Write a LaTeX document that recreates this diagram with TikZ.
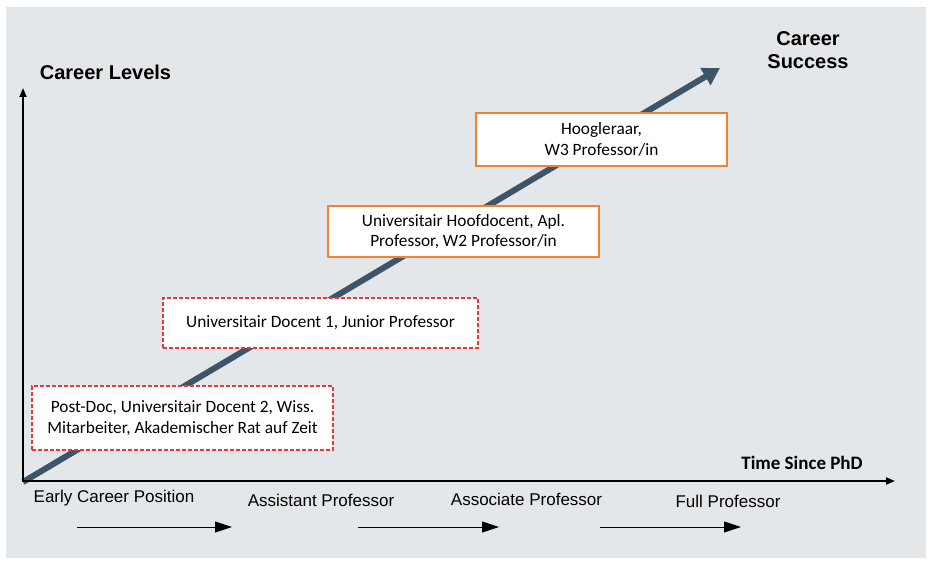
\documentclass[tikz,border=0pt]{standalone}
\usepackage{fontspec}
\setmainfont{Carlito}
\newfontfamily\arialf{Liberation Sans}
\usetikzlibrary{arrows.meta}
\definecolor{bggray}{HTML}{E4E7E9}
\definecolor{slate}{HTML}{3E5468}
\definecolor{boxred}{HTML}{E8383D}
\definecolor{boxorange}{HTML}{F08232}
\tikzset{
  redbox/.style={draw=boxred, dash pattern=on 4pt off 2pt, line width=1.2pt, fill=white, align=center, inner sep=0pt, font=\fontsize{17.3}{20.5}\selectfont},
  orangebox/.style={draw=boxorange, line width=1.3pt, fill=white, align=center, inner sep=0pt, font=\fontsize{17.3}{20.5}\selectfont},
  axis/.style={line width=1.8pt, -{Triangle[length=9pt,width=7pt]}},
  stagearrow/.style={line width=0.9pt, -{Triangle[length=17pt,width=11pt]}},
  stagelabel/.style={font=\arialf\fontsize{17}{20}\selectfont, inner sep=0pt},
  title/.style={font=\arialf\bfseries\fontsize{20}{23}\selectfont, inner sep=0pt, align=center}
}
\begin{document}
\begin{tikzpicture}[x=1pt,y=1pt]
\useasboundingbox (0,0) rectangle (928,560);
\fill[white] (0,0) rectangle (928,560);
\fill[bggray] (6,2) rectangle (926,553);
% coordinates
\coordinate (o) at (23,78);
\coordinate (ytop) at (23,472);
\coordinate (xend) at (895,79);
\coordinate (succ) at (720,492);
% main arrow
\draw[slate, line width=6pt, -{Triangle[length=17pt,width=19pt]}] (o) -- (succ);
% axes
\draw[axis] (o) -- (ytop);
\draw[axis] (23,79) -- (xend);
% boxes
\node[redbox, minimum width=301pt, minimum height=64pt] (b1) at (182.5,142) {Post-Doc, Universitair Docent 2, Wiss.\\Mitarbeiter, Akademischer Rat auf Zeit};
\node[redbox, minimum width=315pt, minimum height=50pt] (b2) at (320.5,237) {Universitair Docent 1, Junior Professor};
\node[orangebox, minimum width=271pt, minimum height=51pt] (b3) at (463.5,328.5) {Universitair Hoofdocent, Apl.\\Professor, W2 Professor/in};
\node[orangebox, minimum width=251pt, minimum height=53pt] (b4) at (601.5,420.5) {Hoogleraar,\\W3 Professor/in};
% titles
\node[title] (cl) at (105.5,488) {Career Levels};
\node[title] (cs) at (808,509.5) {Career\\Success};
\node[font=\bfseries\fontsize{19}{22}\selectfont, inner sep=0pt] (tp) at (802,97) {Time Since PhD};
% stage labels
\node[stagelabel] (s1) at (114,62) {Early Career Position};
\node[stagelabel] (s2) at (321,60) {Assistant Professor};
\node[stagelabel] (s3) at (526.5,61) {Associate Professor};
\node[stagelabel] (s4) at (728,59) {Full Professor};
% stage arrows
\coordinate (a1s) at (77,33); \coordinate (a1e) at (232,33);
\coordinate (a2s) at (358,33); \coordinate (a2e) at (499,33);
\coordinate (a3s) at (600,33); \coordinate (a3e) at (741,33);
\draw[stagearrow] (a1s) -- (a1e);
\draw[stagearrow] (a2s) -- (a2e);
\draw[stagearrow] (a3s) -- (a3e);
\end{tikzpicture}
\end{document}
